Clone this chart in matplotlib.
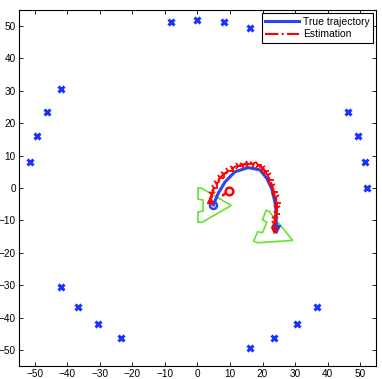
import matplotlib
matplotlib.use("Agg")
import matplotlib.pyplot as plt
from matplotlib.patches import Polygon

# landmarks (blue crosses)
lm_x = [52.0, 51.4, 49.5, 46.3, 16.1, 8.1, 0.0, -8.1,
        -42.1, -46.3, -49.5, -51.4, -42.1, -36.8, -30.6, -23.6,
        16.1, 23.6, 30.6, 36.8]
lm_y = [0.0, 8.1, 16.1, 23.6, 49.5, 51.4, 52.0, 51.4,
        30.6, 23.6, 16.1, 8.1, -30.6, -36.8, -42.1, -46.3,
        -49.5, -46.3, -42.1, -36.8]

# true trajectory
true_x = [4.9, 6.4, 8.5, 11.5, 15.6, 19.2, 21.3, 22.8, 23.8, 24.2, 24.2]
true_y = [-5.2, -1.6, 1.9, 5.0, 6.3, 5.6, 3.0, -0.1, -4.2, -7.3, -12.6]

# estimated trajectory
est_x = [3.8, 4.4, 5.1, 5.9, 6.9, 8.1, 9.4, 10.9, 12.5, 14.0, 15.5, 17.1, 18.6, 19.8,
         20.8, 21.6, 22.3, 23.0, 23.5, 24.1, 24.5, 24.4, 24.2, 23.8, 23.5, 23.5]
est_y = [-3.7, -1.8, 0.0, 1.6, 3.1, 4.3, 5.2, 6.1, 6.8, 7.2, 7.4, 7.4, 7.1, 6.3,
         5.2, 3.9, 2.5, 0.7, -1.2, -2.9, -4.6, -6.3, -8.0, -9.6, -11.1, -13.0]

# initial estimate marker and heading
init_est = (9.8, -0.8)
init_head = (7.9, -2.2)

# robot outlines (green)
robot_start = [(0.15, 0.0), (1.1, 0.0), (10.4, -5.4), (1.4, -10.6), (0.15, -10.6),
               (0.15, -7.4), (1.7, -7.1), (1.7, -3.7), (0.15, -3.4)]
robot_end = [(21.1, -6.9), (22.0, -7.2), (29.3, -16.2), (18.5, -16.9), (17.3, -16.4),
             (18.5, -13.5), (20.0, -13.8), (21.3, -10.6), (20.0, -9.8)]

plt.rcParams["font.family"] = ["Liberation Sans", "DejaVu Sans"]

fig = plt.figure(figsize=(3.82, 3.79), dpi=100)
ax = fig.add_axes([0.049, 0.034, 0.936, 0.94])

green = "#66e233"
ax.add_patch(Polygon(robot_start, closed=True, fill=False, ec=green, lw=1.2))
ax.add_patch(Polygon(robot_end, closed=True, fill=False, ec=green, lw=1.2))

ax.plot(lm_x, lm_y, "x", color="#1a33ff", ms=4.5, mew=2.2, ls="none")

ax.plot(true_x, true_y, "-", color="#2a44ee", lw=2.2, label="True trajectory")
ax.plot(est_x, est_y, "-.", color="red", lw=1.5, label="Estimation")
# spiky pose markers along the estimate
ax.plot(est_x[1:-1:2], est_y[1:-1:2], ls="none", marker="1", color="red",
        ms=6, mew=1.3)
ax.plot(est_x[2:-1:2], est_y[2:-1:2], ls="none", marker="4", color="red",
        ms=6, mew=1.3)

# start / end markers
ax.plot(true_x[0], true_y[0], "o", mfc="none", mec="#2a44ee", ms=5, mew=1.8)
ax.plot(true_x[-1], true_y[-1], "v", color="#2a44ee", ms=6)
ax.plot(est_x[-1], est_y[-1], "v", color="red", ms=5)
ax.plot(est_x[0], est_y[0], "^", color="red", ms=4)
ax.plot([init_est[0], init_head[0]], [init_est[1], init_head[1]], "-", color="red", lw=1.8)
ax.plot(init_est[0], init_est[1], "o", mfc="white", mec="red", ms=5.5, mew=1.8)

ax.set_xlim(-55, 55)
ax.set_ylim(-55, 55)
ax.set_xticks(range(-50, 51, 10))
ax.set_yticks(range(-50, 51, 10))
ax.tick_params(direction="in", top=True, right=True, labelsize=7.2, length=3, width=0.6, pad=2)
for s in ax.spines.values():
    s.set_linewidth(0.8)

leg = ax.legend(loc="upper right", fontsize=7.5, frameon=True, fancybox=False,
                edgecolor="black", framealpha=1, borderpad=0.35, handlelength=3.2,
                labelspacing=0.25, borderaxespad=0.3, handletextpad=0.4)
leg.get_frame().set_linewidth(0.8)

fig.savefig("out.png", dpi=100)
